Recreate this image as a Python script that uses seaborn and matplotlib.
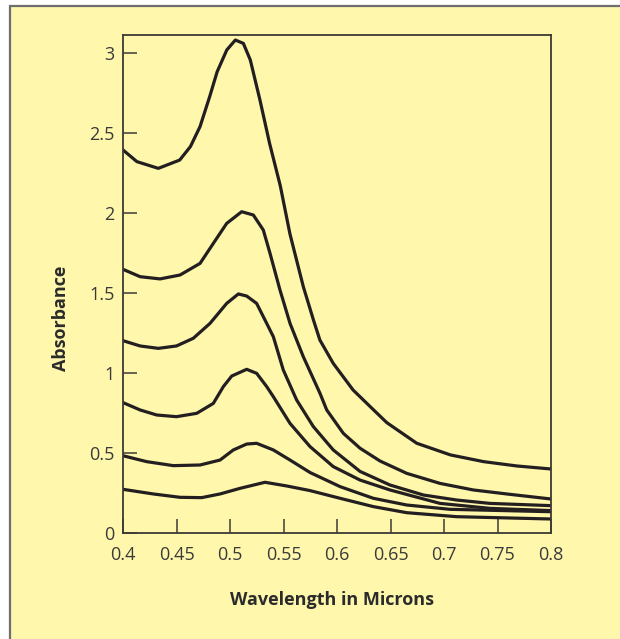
import numpy as np
import pandas as pd
import matplotlib
matplotlib.use("Agg")
import matplotlib.pyplot as plt
from matplotlib.patches import Rectangle
import seaborn as sns

# ---- data (wavelength in microns, absorbance) ----
c1_x = [0.400, 0.413, 0.433, 0.453, 0.463, 0.472, 0.481, 0.488, 0.497, 0.505, 0.5125, 0.519, 0.528,
        0.537, 0.547, 0.556, 0.5685, 0.578, 0.584, 0.5965, 0.615, 0.631, 0.6465, 0.6745, 0.706,
        0.737, 0.768, 0.800]
c1_y = [2.394, 2.321, 2.279, 2.331, 2.415, 2.540, 2.727, 2.883, 3.019, 3.081, 3.060, 2.956, 2.706,
        2.435, 2.17, 1.87, 1.54, 1.331, 1.206, 1.060, 0.894, 0.790, 0.690, 0.561, 0.488,
        0.446, 0.419, 0.400]

c2_x = [0.400, 0.416, 0.4346, 0.4533, 0.472, 0.4844, 0.4969, 0.5109, 0.5218, 0.5311, 0.5374,
        0.5467, 0.5561, 0.5685, 0.5841, 0.5904, 0.6059, 0.6215, 0.6402, 0.6651, 0.6963, 0.7274,
        0.7586, 0.800]
c2_y = [1.648, 1.602, 1.588, 1.6125, 1.685, 1.810, 1.935, 2.008, 1.9875, 1.894, 1.748,
        1.519, 1.310, 1.102, 0.873, 0.769, 0.623, 0.530, 0.450, 0.373, 0.310, 0.269,
        0.244, 0.2125]

c3_x = [0.400, 0.416, 0.433, 0.450, 0.4657, 0.4813, 0.4969, 0.5078, 0.5156, 0.5249, 0.5343,
        0.5405, 0.5498, 0.5623, 0.5779, 0.5965, 0.6215, 0.6495, 0.6807, 0.7119, 0.743, 0.800]
c3_y = [1.202, 1.169, 1.154, 1.169, 1.217, 1.310, 1.435, 1.494, 1.481, 1.435, 1.310,
        1.227, 1.019, 0.831, 0.665, 0.519, 0.385, 0.300, 0.2375, 0.206, 0.185, 0.171]

c4_x = [0.400, 0.416, 0.4315, 0.450, 0.4689, 0.4844, 0.4938, 0.5016, 0.5156, 0.5249, 0.5343,
        0.5405, 0.5561, 0.5748, 0.5965, 0.6215, 0.6495, 0.6963, 0.743, 0.800]
c4_y = [0.815, 0.769, 0.7375, 0.727, 0.748, 0.810, 0.915, 0.981, 1.023, 0.998, 0.915,
        0.852, 0.685, 0.540, 0.415, 0.331, 0.269, 0.185, 0.154, 0.140]

c5_x = [0.400, 0.4221, 0.447, 0.472, 0.4907, 0.5031, 0.5156, 0.5249, 0.5405, 0.5561, 0.5748,
        0.5965, 0.6028, 0.6339, 0.6651, 0.7056, 0.800]
c5_y = [0.483, 0.446, 0.421, 0.425, 0.456, 0.519, 0.556, 0.5606, 0.519, 0.456, 0.378,
        0.310, 0.290, 0.217, 0.175, 0.148, 0.133]

c6_x = [0.400, 0.4283, 0.4533, 0.4735, 0.4907, 0.5093, 0.5327, 0.553, 0.5748, 0.6028, 0.6339,
        0.6651, 0.7119, 0.800]
c6_y = [0.273, 0.244, 0.223, 0.221, 0.244, 0.279, 0.317, 0.294, 0.265, 0.217, 0.165,
        0.127, 0.102, 0.0875]

x_ticks = [0.4, 0.45, 0.5, 0.55, 0.6, 0.65, 0.7, 0.75, 0.8]
x_tick_labels = ["0.4", "0.45", "0.5", "0.55", "0.6", "0.65", "0.7", "0.75", "0.8"]
y_ticks = [0, 0.5, 1, 1.5, 2, 2.5, 3]
y_tick_labels = ["0", "0.5", "1", "1.5", "2", "2.5", "3"]

curves = {"c1": (c1_x, c1_y), "c2": (c2_x, c2_y), "c3": (c3_x, c3_y),
          "c4": (c4_x, c4_y), "c5": (c5_x, c5_y), "c6": (c6_x, c6_y)}
df = pd.concat([pd.DataFrame({"x": xs, "y": ys, "curve": k}) for k, (xs, ys) in curves.items()],
               ignore_index=True)

# ---- styling ----
sns.set_style("ticks")
plt.rcParams["font.family"] = ["Open Sans", "DejaVu Sans"]

BG = "#FFF7AC"
INK = "#231F20"
AX = "#3C3A36"

fig = plt.figure(figsize=(6.2, 6.39), dpi=100)
fig.patch.set_facecolor("white")
fig.add_artist(Rectangle((10 / 620, -0.05), 1.2, (639 - 6) / 639 + 0.05,
                         transform=fig.transFigure, facecolor=BG,
                         edgecolor="#6E6E6E", linewidth=1.6, zorder=0))

ax = fig.add_axes([123 / 620, (639 - 533) / 639, 428 / 620, 498 / 639])
ax.set_facecolor(BG)

sns.lineplot(data=df, x="x", y="y", hue="curve", palette=[INK] * 6, legend=False,
             sort=False, estimator=None, linewidth=2.3, ax=ax)
for l in ax.get_lines():
    l.set_solid_joinstyle("round")
    l.set_solid_capstyle("round")

ax.set_xlim(0.4, 0.8)
ax.set_ylim(0, 498 / 160)
ax.set_xticks(x_ticks)
ax.set_xticklabels(x_tick_labels)
ax.set_yticks(y_ticks)
ax.set_yticklabels(y_tick_labels)

for s in ax.spines.values():
    s.set_visible(True)
    s.set_color(AX)
    s.set_linewidth(1.3)

ax.tick_params(axis="both", direction="in", length=10, width=1.1, color=AX,
               labelsize=13, labelcolor="#3A3A3A")
ax.tick_params(axis="x", pad=9)
ax.tick_params(axis="y", pad=6)

ax.set_xlabel("Wavelength in Microns", fontsize=13, fontweight="bold", color="#2B2B2B")
ax.xaxis.label.set_va("center")
ax.xaxis.set_label_coords((332 - 123) / 428, (533 - 600) / 498)
ax.set_ylabel("Absorbance", fontsize=13, fontweight="bold", color="#2B2B2B")
ax.yaxis.label.set_va("center")
ax.yaxis.set_label_coords((61 - 123) / 428, (533 - 318) / 498)

fig.savefig("out.png", dpi=100, facecolor=fig.get_facecolor())
